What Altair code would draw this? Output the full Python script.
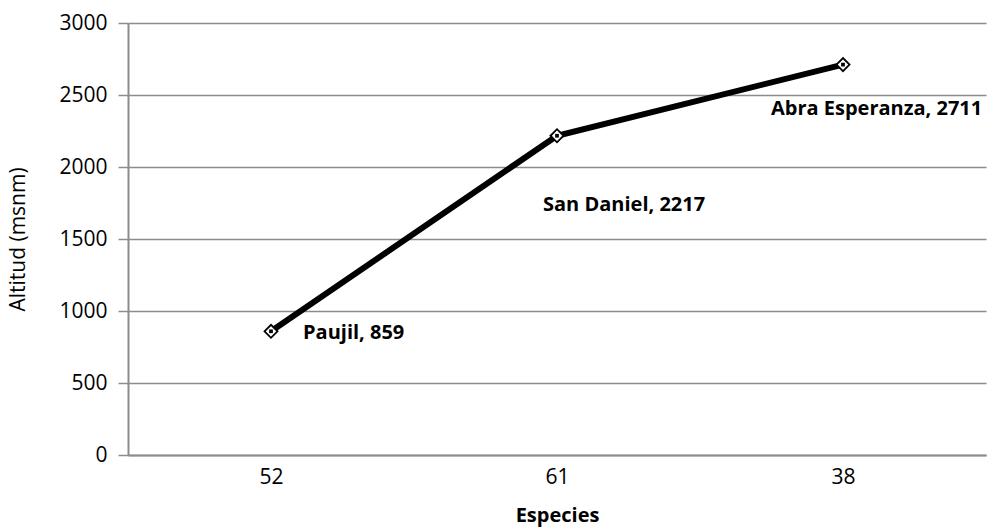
import altair as alt
import pandas as pd

# Species counts per locality (x categories) and altitude in metres above sea level
especies = ["52", "61", "38"]
altitud = [859, 2217, 2711]
localidad = ["Paujil", "San Daniel", "Abra Esperanza"]

df = pd.DataFrame({
    "Especies": especies,
    "Altitud": altitud,
    "Localidad": localidad,
})
df["Etiqueta"] = df["Localidad"] + ", " + df["Altitud"].astype(str)

FONT = "Open Sans"
FS = 21
GRID = "#8c8c8c"

x = alt.X(
    "Especies:N",
    sort=especies,
    scale=alt.Scale(paddingInner=0, paddingOuter=0.5),
    axis=alt.Axis(
        title="Especies",
        labelAngle=0,
        ticks=False,
        labelPadding=11,
        labelFontSize=FS,
        labelFont=FONT,
        labelColor="#000000",
        titleFont=FONT,
        titleFontSize=FS - 1,
        titleFontWeight="bold",
        titleColor="#000000",
        titleY=50,
        titleBaseline="top",
        domainColor=GRID,
        domainWidth=2,
        grid=False,
    ),
)
y = alt.Y(
    "Altitud:Q",
    scale=alt.Scale(domain=[0, 3000], nice=False),
    axis=alt.Axis(
        title="Altitud (msnm)",
        values=[0, 500, 1000, 1500, 2000, 2500, 3000],
        format="d",
        tickSize=10,
        tickColor=GRID,
        tickWidth=1.5,
        labelPadding=11,
        labelFontSize=FS,
        labelFont=FONT,
        labelColor="#000000",
        titleFont=FONT,
        titleFontSize=FS,
        titleFontWeight="normal",
        titleColor="#000000",
        titleX=-110,
        titleY=216,
        titleAngle=-90,
        titleAlign="center",
        titleBaseline="middle",
        domainColor=GRID,
        domainWidth=2,
        gridColor=GRID,
        gridWidth=1.5,
    ),
)

base = alt.Chart(df).encode(x=x, y=y)

line = base.mark_line(color="#000000", strokeWidth=6)
diamonds = base.mark_point(
    shape="diamond", size=170, filled=True, fill="#ffffff",
    stroke="#000000", strokeWidth=1.8, opacity=1,
)
dots = base.mark_point(shape="square", size=14, filled=True, color="#000000", opacity=1)

label_style = dict(font=FONT, fontSize=20, fontWeight="bold", color="#000000", align="left",
                   baseline="alphabetic")


def etiqueta(nombre, dx, dy):
    return (
        alt.Chart(df)
        .transform_filter(alt.datum.Localidad == nombre)
        .mark_text(dx=dx, dy=dy, **label_style)
        .encode(x=x, y=y, text="Etiqueta:N")
    )


chart = (
    alt.layer(
        line, diamonds, dots,
        etiqueta("Paujil", 32, 8),
        etiqueta("San Daniel", -14, 75),
        etiqueta("Abra Esperanza", -72, 50),
    )
    .properties(
        width=858,
        height=432,
        autosize=alt.AutoSizeParams(type="none"),
        padding={"left": 128, "top": 23, "right": 1, "bottom": 74},
        background="#ffffff",
    )
    .configure_view(stroke=None)
)

chart.save("out.html", embed_options={"renderer": "svg", "actions": False})
